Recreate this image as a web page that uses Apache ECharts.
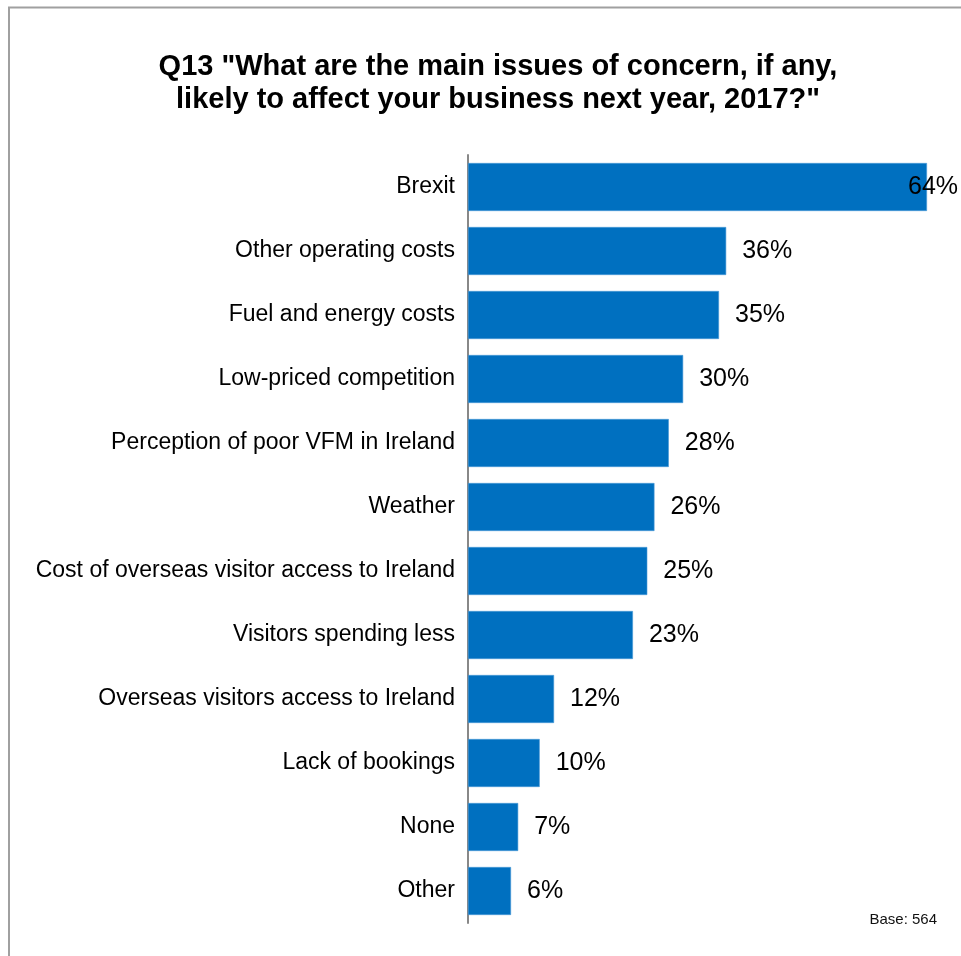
<!DOCTYPE html>
<html>
<head>
<meta charset="utf-8">
<title>Q13 Issues of concern 2017</title>
<script src="https://cdn.jsdelivr.net/npm/echarts@6/dist/echarts.min.js"></script>
<style>
  html, body { margin: 0; padding: 0; background: #fff; }
  #chart { width: 961px; height: 956px; }
</style>
</head>
<body>
<div id="chart"></div>
<script>
// Survey answers, listed from the most cited issue to the least
var categories = [
  'Brexit',
  'Other operating costs',
  'Fuel and energy costs',
  'Low-priced competition',
  'Perception of poor VFM in Ireland',
  'Weather',
  'Cost of overseas visitor access to Ireland',
  'Visitors spending less',
  'Overseas visitors access to Ireland',
  'Lack of bookings',
  'None',
  'Other'
];
// Share of respondents (%) naming each issue
var values = [64, 36, 35, 30, 28, 26, 25, 23, 12, 10, 7, 6];
var baseCount = 564;
var titleText = 'Q13 "What are the main issues of concern, if any,\nlikely to affect your business next year, 2017?"';

var FONT = '"Liberation Sans", Arial, sans-serif';
var maxValue = Math.max.apply(null, values);

// The longest bar reaches the edge, so its label is pulled back over the bar
var barData = values.map(function (v) {
  var item = { value: v };
  if (v === maxValue) {
    item.label = { offset: [-35, 0] };
  }
  return item;
});

var chart = echarts.init(document.getElementById('chart'), null, { renderer: 'canvas' });

chart.setOption({
  backgroundColor: '#ffffff',
  animation: false,
  graphic: [
    {
      // outer frame
      type: 'rect',
      shape: { x: 9, y: 7.5, width: 1000, height: 1000 },
      style: { fill: 'none', stroke: '#a0a0a0', lineWidth: 2 },
      silent: true,
      z: -1
    },
    {
      // two-line heading
      type: 'text',
      x: 498,
      y: 50,
      style: {
        text: titleText,
        font: 'bold 29px ' + FONT,
        fill: '#000000',
        align: 'center',
        verticalAlign: 'top',
        lineHeight: 33
      }
    },
    {
      type: 'text',
      right: 24,
      top: 912,
      style: {
        text: 'Base: ' + baseCount,
        font: '15px ' + FONT,
        fill: '#111111'
      }
    }
  ],
  grid: {
    left: 468,
    right: 34,
    top: 155,
    bottom: 33,
    containLabel: false
  },
  xAxis: {
    type: 'value',
    min: 0,
    max: maxValue,
    show: false
  },
  yAxis: {
    type: 'category',
    data: categories,
    inverse: true,
    axisLine: { show: true, lineStyle: { color: '#888888', width: 2 } },
    axisTick: { show: false },
    axisLabel: {
      margin: 13,
      fontFamily: FONT,
      fontSize: 23,
      color: '#000000'
    },
    splitLine: { show: false }
  },
  series: [
    {
      type: 'bar',
      data: barData,
      barCategoryGap: '25%',
      itemStyle: {
        color: '#0070C0',
        borderColor: '#4a9ad6',
        borderWidth: 0.6
      },
      label: {
        show: true,
        position: 'right',
        distance: 16,
        formatter: '{c}%',
        fontFamily: FONT,
        fontSize: 25,
        color: '#000000'
      }
    }
  ]
});
</script>
</body>
</html>
